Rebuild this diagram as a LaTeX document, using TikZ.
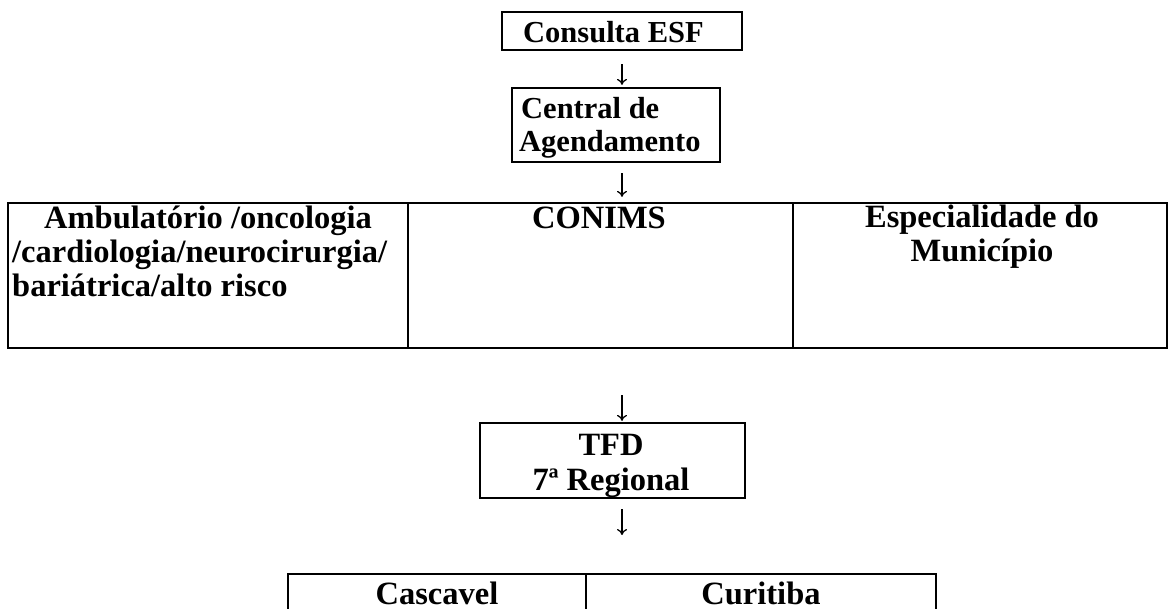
\documentclass[tikz,border=0pt]{standalone}
\usepackage{fontspec}
\setmainfont{Liberation Serif}
\usetikzlibrary{arrows.meta}
\begin{document}
\begin{tikzpicture}[x=1pt,y=-1pt,
  box/.style={draw, line width=2.2pt, inner sep=0pt},
  lbl/.style={font=\fontsize{30.5}{34}\selectfont\bfseries, inner sep=0pt},
  big/.style={lbl, font=\fontsize{32.5}{34}\selectfont\bfseries},
  arr/.style={line width=1.3pt, -{To[length=6pt,width=10pt]}}]
\clip (0,0) rectangle (1169,609);
\fill[white] (0,0) rectangle (1169,609);
% boxes
\node[box, minimum width=240pt, minimum height=38pt] (consulta) at (622,31) {};
\node[box, minimum width=208pt, minimum height=74pt] (central) at (616,125) {};
\node[box, minimum width=400pt, minimum height=145pt] (cell1) at (208,275.5) {};
\node[box, minimum width=385pt, minimum height=145pt] (cell2) at (600.5,275.5) {};
\node[box, minimum width=374pt, minimum height=145pt] (cell3) at (980,275.5) {};
\node[box, minimum width=265pt, minimum height=75pt] (tfd) at (612.5,460.5) {};
\node[box, minimum width=298pt, minimum height=76pt] (cell4) at (437,612) {};
\node[box, minimum width=350pt, minimum height=76pt] (cell5) at (761,612) {};
% texts
\node[lbl, anchor=base west] (tconsulta) at (523,43) {Consulta ESF};
\node[lbl, anchor=base west] (tcentral1) at (521,119) {Central de};
\node[lbl, anchor=base west] (tcentral2) at (519,152) {Agendamento};
\node[big, anchor=base west] (tamb1) at (44,229) {Ambulatório /oncologia};
\node[big, anchor=base west] (tamb2) at (12,263) {/cardiologia/neurocirurgia/};
\node[big, anchor=base west] (tamb3) at (12,297) {bariátrica/alto risco};
\node[big, anchor=base] (tconims) at (599,229) {CONIMS};
\node[big, anchor=base] (tesp1) at (982,228) {Especialidade do};
\node[big, anchor=base] (tesp2) at (982,262) {Município};
\node[big, anchor=base] (ttfd1) at (611,455) {TFD};
\node[big, anchor=base] (ttfd2) at (611,490) {7ª Regional};
\node[big, anchor=base] (tcasc) at (437,604) {Cascavel};
\node[big, anchor=base] (tcuri) at (761,604) {Curitiba};
% arrows
\coordinate (a3) at (622,395);
\coordinate (a4) at (622,535);
\draw[arr, shorten <=13pt, shorten >=2pt] (consulta.south) -- (consulta.south |- central.north);
\draw[arr, shorten <=10pt, shorten >=5pt] (consulta.south |- central.south) -- (consulta.south |- cell2.north);
\draw[arr, shorten >=1pt] (a3) -- (a3 |- tfd.north);
\draw[arr, shorten <=10pt] (a3 |- tfd.south) -- (a4);
\end{tikzpicture}
\end{document}
